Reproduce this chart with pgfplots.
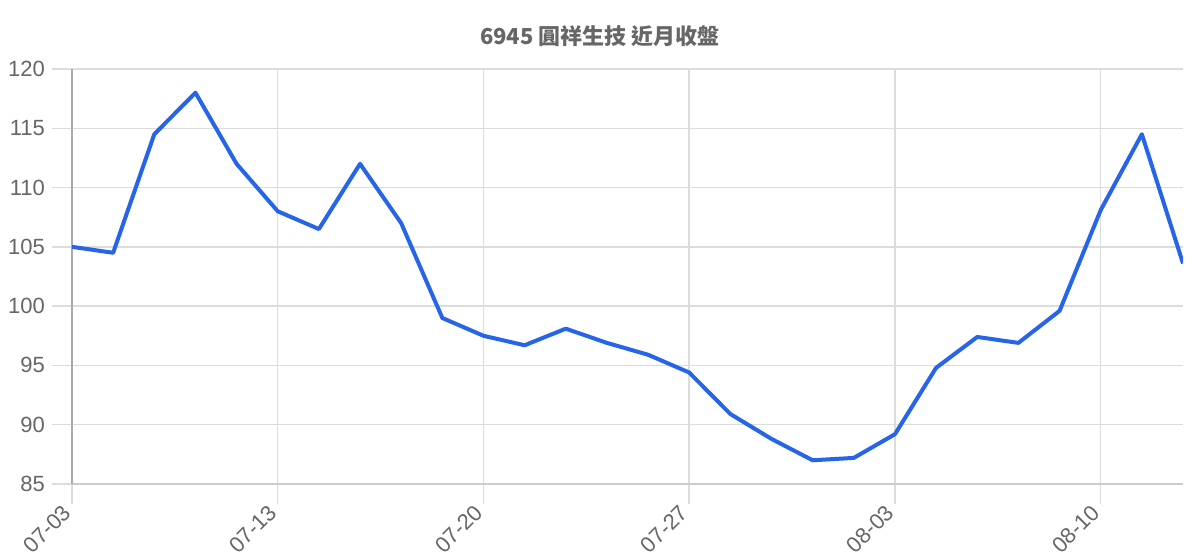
\documentclass[border=0pt]{standalone}
\usepackage{fontspec}
\setmainfont{Liberation Sans}
\newfontfamily\cjk{Noto Sans CJK TC}
\usepackage{pgfplots}
\pgfplotsset{compat=1.18}
\definecolor{lineBlue}{RGB}{38,100,232}
\definecolor{gridGray}{RGB}{220,220,220}
\definecolor{baseGray}{RGB}{204,204,204}
\definecolor{axisGray}{RGB}{170,170,170}
\definecolor{labelGray}{RGB}{102,102,102}

\begin{document}
\begin{tikzpicture}
    \useasboundingbox (0,0) rectangle (600pt,280pt);
    \node[font=\cjk\bfseries\fontsize{11}{13}\selectfont, text=labelGray] at (300pt,262pt) {6945 圓祥生技 近月收盤};
    \begin{axis}[
        at={(36pt,38pt)}, anchor=south west,
        scale only axis,
        width=555.5pt, height=207.5pt,
        xmin=0, xmax=27,
        ymin=85, ymax=120,
        xtick={0,5,...,25},
        xticklabels={07-03,07-13,07-20,07-27,08-03,08-10},
        ytick={85,90,...,120},
        axis lines*=left,
        x axis line style={baseGray, line width=0.75pt, -},
        y axis line style={axisGray, line width=0.75pt, -},
        grid=major,
        major grid style={gridGray, line width=0.75pt},
        tick align=outside,
        major tick length=10pt,
        tick style={gridGray, line width=0.75pt},
        ticklabel style={font=\fontsize{11}{13}\selectfont, text=labelGray},
        /pgf/number format/assume math mode=true,
        xticklabel style={rotate=45, anchor=east},
    ]
    % closing price per trading day
    \addplot[lineBlue, line width=2pt, line join=round] coordinates {
        (0,105) (1,104.5) (2,114.5) (3,118) (4,112)
        (5,108) (6,106.5) (7,112) (8,107) (9,99)
        (10,97.5) (11,96.7) (12,98.1) (13,96.9) (14,95.9)
        (15,94.4) (16,90.9) (17,88.8) (18,87.0) (19,87.2)
        (20,89.2) (21,94.8) (22,97.4) (23,96.9) (24,99.6)
        (25,108.1) (26,114.5) (27,103.6)
    };
    \end{axis}
\end{tikzpicture}
\end{document}
